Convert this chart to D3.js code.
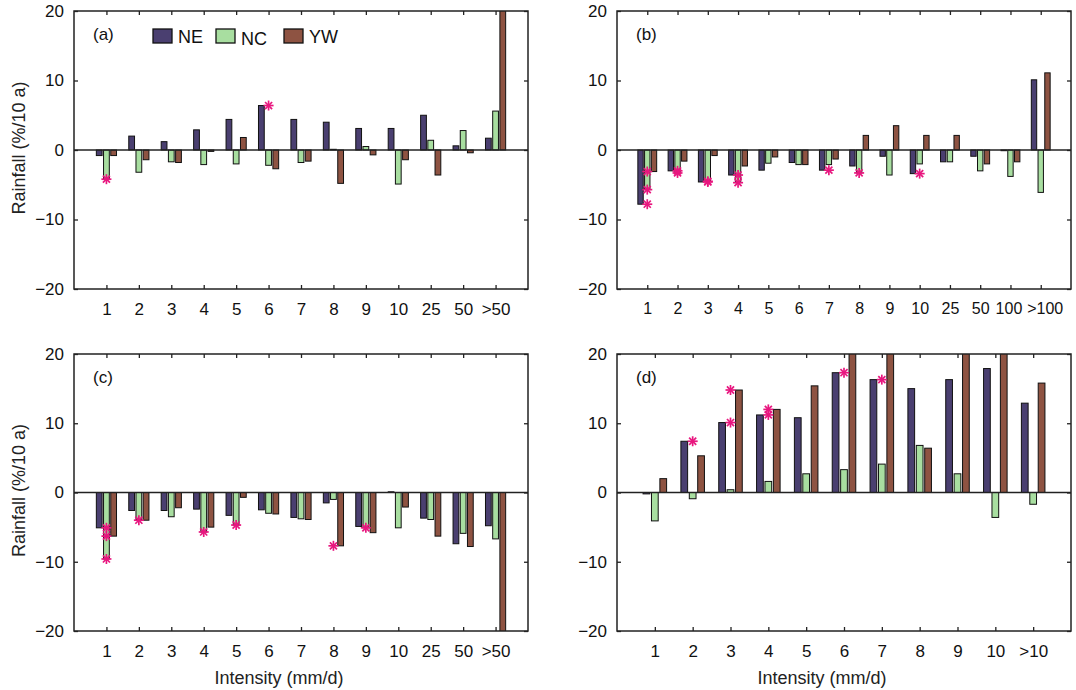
<!DOCTYPE html>
<html>
<head>
<meta charset="utf-8">
<script src="https://cdn.jsdelivr.net/npm/d3@7"></script>
<style>
  body { margin: 0; background: #fff; }
  svg { display: block; font-family: Arial, "Liberation Sans", sans-serif; }
</style>
</head>
<body>
<svg id="chart" width="1076" height="690"></svg>
<script>
// ---------------- DATA ----------------
const seriesNames = ["NE", "NC", "YW"];
const yTicks = [-20, -10, 0, 10, 20];

const catsA = ["1","2","3","4","5","6","7","8","9","10","25","50",">50"];
const aNE = [-0.8, 2.0, 1.2, 2.9, 4.4, 6.4, 4.4, 4.0, 3.1, 3.1, 5.0, 0.6, 1.7];
const aNC = [-4.2, -3.2, -1.7, -2.1, -2.0, -2.2, -1.8, 0.1, 0.5, -4.9, 1.4, 2.8, 5.6];
const aYW = [-0.8, -1.4, -1.8, -0.2, 1.8, -2.7, -1.6, -4.8, -0.7, -1.4, -3.6, -0.4, 25];
const aSig = [["1","NC"], ["6","NE"]];

const catsB = ["1","2","3","4","5","6","7","8","9","10","25","50","100",">100"];
const bNE = [-7.8, -3.0, -4.6, -3.6, -2.9, -1.8, -2.9, -2.3, -0.9, -3.4, -1.7, -0.9, -0.1, 10.1];
const bNC = [-5.7, -3.3, -4.5, -4.7, -1.9, -2.1, -2.1, -3.3, -3.6, -2.0, -1.7, -3.0, -3.8, -6.1];
const bYW = [-3.1, -1.6, -0.8, -2.3, -1.0, -2.1, -1.3, 2.1, 3.5, 2.1, 2.1, -2.0, -1.7, 11.1];
const bSig = [["1","NE"],["1","NC"],["1","YW"],["2","NE"],["2","NC"],["3","NE"],["3","NC"],
              ["4","NE"],["4","NC"],["7","NE"],["8","NC"],["10","NE"]];

const catsC = ["1","2","3","4","5","6","7","8","9","10","25","50",">50"];
const cNE = [-5.1, -2.6, -2.6, -2.4, -3.3, -2.5, -3.6, -1.5, -4.9, 0.1, -3.7, -7.4, -4.8];
const cNC = [-9.6, -3.9, -3.5, -5.7, -4.7, -3.0, -3.8, -1.0, -5.1, -5.1, -3.9, -5.9, -6.7];
const cYW = [-6.3, -4.0, -2.2, -5.0, -0.7, -3.1, -3.9, -7.7, -5.8, -2.1, -6.3, -7.8, -25];
const cSig = [["1","NE"],["1","NC"],["1","YW"],["2","YW"],["4","NC"],["5","NC"],["8","YW"],["9","NC"]];

const catsD = ["1","2","3","4","5","6","7","8","9","10",">10"];
const dNE = [-0.2, 7.4, 10.1, 11.2, 10.8, 17.3, 16.3, 15.0, 16.3, 17.9, 12.9];
const dNC = [-4.1, -0.9, 0.4, 1.6, 2.7, 3.3, 4.1, 6.8, 2.7, -3.6, -1.7];
const dYW = [2.0, 5.3, 14.8, 12.0, 15.4, 24, 24, 6.4, 24, 24, 15.8];
const dSig = [["2","NE"],["3","NE"],["3","YW"],["4","NE"],["4","YW"],["6","NE"],["7","NE"]];

// ---------------- STYLE ----------------
const colors = { NE: "#4a3f70", NC: "#a8dea0", YW: "#8e5342" };
const starColor = "#e8177f";

const panels = [
  { id: "a", label: "(a)", cats: catsA, vals: { NE: aNE, NC: aNC, YW: aYW }, sig: aSig,
    x0: 74, x1: 528, y0: 11, y1: 289, ylabel: true, xlabel: false, legend: true, fs: 17 },
  { id: "b", label: "(b)", cats: catsB, vals: { NE: bNE, NC: bNC, YW: bYW }, sig: bSig,
    x0: 617, x1: 1071, y0: 11, y1: 289, ylabel: false, xlabel: false, fs: 16 },
  { id: "c", label: "(c)", cats: catsC, vals: { NE: cNE, NC: cNC, YW: cYW }, sig: cSig,
    x0: 74, x1: 528, y0: 354, y1: 631, ylabel: true, xlabel: true, fs: 17 },
  { id: "d", label: "(d)", cats: catsD, vals: { NE: dNE, NC: dNC, YW: dYW }, sig: dSig,
    x0: 617, x1: 1071, y0: 354, y1: 631, ylabel: false, xlabel: true, fs: 17 }
];

const svg = d3.select("#chart");
const defs = svg.append("defs");
const groupOffset = 0.2222; // spacing between bars in a group (category units)
const barW = 0.8 * groupOffset;
const tickLen = 4;

panels.forEach(p => {
  const n = p.cats.length;
  const x = d3.scaleLinear().domain([0, n + 1]).range([p.x0, p.x1]);
  const y = d3.scaleLinear().domain([-20, 20]).range([p.y1, p.y0]);
  const g = svg.append("g");

  defs.append("clipPath").attr("id", "clip-" + p.id)
    .append("rect").attr("x", p.x0).attr("y", p.y0)
    .attr("width", p.x1 - p.x0).attr("height", p.y1 - p.y0);

  // bars
  const bars = g.append("g").attr("clip-path", "url(#clip-" + p.id + ")");
  seriesNames.forEach((s, j) => {
    const vals = p.vals[s];
    bars.selectAll(null).data(vals).enter().append("rect")
      .attr("x", (v, i) => x(i + 1 + (j - 1) * groupOffset - barW / 2))
      .attr("width", x(barW) - x(0))
      .attr("y", v => y(Math.max(0, v)))
      .attr("height", v => Math.abs(y(v) - y(0)))
      .attr("fill", colors[s])
      .attr("stroke", "#111")
      .attr("stroke-width", 1);
  });

  // zero line
  g.append("line").attr("x1", p.x0).attr("x2", p.x1)
    .attr("y1", y(0)).attr("y2", y(0))
    .attr("stroke", "#222").attr("stroke-width", 1.3);

  // frame
  g.append("rect").attr("x", p.x0).attr("y", p.y0)
    .attr("width", p.x1 - p.x0).attr("height", p.y1 - p.y0)
    .attr("fill", "none").attr("stroke", "#222").attr("stroke-width", 1.5);

  // y axis (left) with inward ticks, and mirrored right ticks
  const yAxisL = d3.axisLeft(y).tickValues(yTicks).tickSize(-tickLen).tickPadding(10)
    .tickFormat(d => d < 0 ? "\u2212" + Math.abs(d) : d);
  const gl = g.append("g").attr("transform", `translate(${p.x0},0)`).call(yAxisL);
  const yAxisR = d3.axisRight(y).tickValues(yTicks).tickSize(-tickLen).tickFormat("");
  const gr = g.append("g").attr("transform", `translate(${p.x1},0)`).call(yAxisR);

  // x axis (bottom) with inward ticks, mirrored top ticks
  const xAxisB = d3.axisBottom(x).tickValues(d3.range(1, n + 1)).tickSize(-tickLen).tickPadding(14)
    .tickFormat(d => p.cats[d - 1]);
  const gb = g.append("g").attr("transform", `translate(0,${p.y1})`).call(xAxisB);
  const xAxisT = d3.axisTop(x).tickValues(d3.range(1, n + 1)).tickSize(-tickLen).tickFormat("");
  const gt = g.append("g").attr("transform", `translate(0,${p.y0})`).call(xAxisT);

  [gl, gr, gt].forEach(a => {
    a.select(".domain").remove();
    a.selectAll(".tick line").attr("stroke", "#222").attr("stroke-width", 1.3);
    a.selectAll("text").attr("fill", "#111").attr("font-size", 17)
      .attr("font-family", "Arial, 'Liberation Sans', sans-serif");
  });
  gb.select(".domain").remove();
  gb.selectAll(".tick line").attr("stroke", "#222").attr("stroke-width", 1.3);
  gb.selectAll("text").attr("fill", "#111").attr("font-size", p.fs)
    .attr("font-family", "Arial, 'Liberation Sans', sans-serif");
  if (p.id === "b") {
    // keep the two crowded last labels apart, as in the reference
    gb.selectAll(".tick text").attr("dx", d => d === n ? 4 : (d === n - 1 ? -2 : 0));
  }

  // significance asterisks (at category centre, at the bar's value)
  const starG = g.append("g");
  p.sig.forEach(([cat, s]) => {
    const i = p.cats.indexOf(cat);
    const v = p.vals[s][i];
    const cx = x(i + 1), cy = y(v), r = 5;
    for (let k = 0; k < 4; k++) {
      const a = k * Math.PI / 4;
      starG.append("line")
        .attr("x1", cx - r * Math.cos(a)).attr("y1", cy - r * Math.sin(a))
        .attr("x2", cx + r * Math.cos(a)).attr("y2", cy + r * Math.sin(a))
        .attr("stroke", starColor).attr("stroke-width", 1.7);
    }
  });

  // panel label
  g.append("text").attr("x", p.x0 + 19).attr("y", p.y0 + 29)
    .attr("font-size", 17).attr("fill", "#111").text(p.label);

  // axis labels
  if (p.ylabel) {
    g.append("text")
      .attr("transform", `translate(25,${(p.y0 + p.y1) / 2 - 2}) rotate(-90)`)
      .attr("text-anchor", "middle").attr("font-size", 18).attr("fill", "#222")
      .text("Rainfall (%/10 a)");
  }
  if (p.xlabel) {
    g.append("text")
      .attr("x", (p.x0 + p.x1) / 2 - 22).attr("y", 684)
      .attr("text-anchor", "middle").attr("font-size", 18).attr("fill", "#222")
      .text("Intensity (mm/d)");
  }

  // legend
  if (p.legend) {
    const lx = [153, 216, 284];
    seriesNames.forEach((s, j) => {
      g.append("rect").attr("x", lx[j]).attr("y", 29).attr("width", 19).attr("height", 14)
        .attr("fill", colors[s]).attr("stroke", "#111").attr("stroke-width", 1.3);
      g.append("text").attr("x", lx[j] + 25).attr("y", j === 1 ? 45 : 43)
        .attr("font-size", 18).attr("fill", "#111").text(s);
    });
  }
});
</script>
</body>
</html>
